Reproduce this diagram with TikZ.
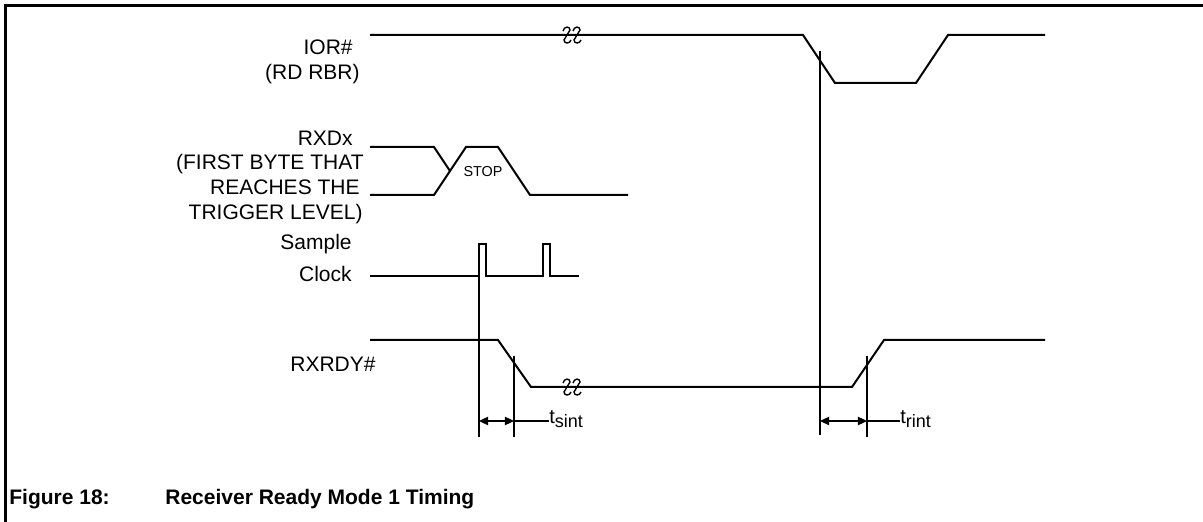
\documentclass[tikz,border=0pt]{standalone}
\usepackage{fontspec}
\setmainfont{Liberation Sans}
\usetikzlibrary{arrows.meta}

\begin{document}
\begin{tikzpicture}[
  x=0.5pt,y=-0.5pt,
  sig/.style={line width=1pt,line join=miter},
  marker/.style={line width=0.8pt},
  dim/.style={line width=0.8pt,{Triangle[length=4.6pt,width=4.2pt]}-{Triangle[length=4.6pt,width=4.2pt]}},
  lbl/.style={font=\fontsize{10.5}{12.5}\selectfont,inner sep=0pt,anchor=base east},
  tlbl/.style={font=\fontsize{10}{12}\selectfont,inner sep=0pt,anchor=base west},
  brk/.pic={
    \foreach \c in {-5,5}{
      \draw[line width=0.7pt] (\c-4,-4) .. controls (\c-3,-9) and (\c+3,-9) .. (\c+3,-5)
        -- (\c-3,5) .. controls (\c-3,9) and (\c+3,9) .. (\c+4,5);
    }
  }
]
\useasboundingbox (0,0) rectangle (1203,522);
% frame
\draw[line width=1.5pt] (5,522) -- (5,6) -- (1203,6);
% signal names
\foreach \n/\x/\y/\t in {ior/353/55/{IOR\#}, rd/360/80/{(RD RBR)},
    rxd/353/146/RXDx, first/364/170/{(FIRST BYTE THAT}, reach/360/195/{REACHES THE},
    trig/363/220/{TRIGGER LEVEL)}, samp/352/250/Sample, clk/352/282/Clock, rdy/376/372/{RXRDY\#}}{
  \node[lbl] (\n) at (\x,\y) {\t};
}
% IOR#
\draw[sig] (370,35) -- (803,35) -- (835,83) -- (916,83) -- (948,35) -- (1045,35);
\pic at (572,35) {brk};
% RXDx
\draw[sig] (370,147) -- (434,147) -- (450,171);
\draw[sig] (370,195) -- (434,195) -- (466,147) -- (498,147) -- (530,195) -- (628,195);
\node[font=\fontsize{7.2}{8}\selectfont,inner sep=0pt] (stop) at (483,172) {STOP};
% sample clock
\draw[sig] (370,276) -- (479,276) -- (479,244) -- (486,244) -- (486,276) -- (543,276)
  -- (543,244) -- (550,244) -- (550,276) -- (579,276);
% RXRDY#
\draw[sig] (370,340) -- (498,340) -- (531,387) -- (852,387) -- (884,340) -- (1045,340);
\pic at (572,387) {brk};
% timing markers
\draw[marker] (479,276) -- (479,437);
\draw[marker] (514,356) -- (514,437);
\draw[marker] (820,51) -- (820,435);
\draw[marker] (867,356) -- (867,437);
\coordinate (ts0) at (479,421);
\coordinate (ts1) at (514,421);
\coordinate (tr0) at (820,421);
\coordinate (tr1) at (867,421);
% t_sint
\draw[dim] (ts0) -- (ts1);
\node[tlbl] (tsint) at (549,424) {t\raisebox{-2pt}{\fontsize{9}{9}\selectfont sint}};
\draw[marker] (ts1) -- (ts1 -| tsint.west);
% t_rint
\draw[dim] (tr0) -- (tr1);
\node[tlbl] (trint) at (900,424) {t\raisebox{-2pt}{\fontsize{9}{9}\selectfont rint}};
\draw[marker] (tr1) -- (tr1 -| trint.west);
% caption
\node[font=\fontsize{10.5}{12}\selectfont\bfseries,inner sep=0pt,anchor=base west] (fig) at (9,505) {Figure 18:};
\node[font=\fontsize{10.5}{12}\selectfont\bfseries,inner sep=0pt,anchor=base west] (title) at (165,505) {Receiver Ready Mode 1 Timing};
\end{tikzpicture}
\end{document}
